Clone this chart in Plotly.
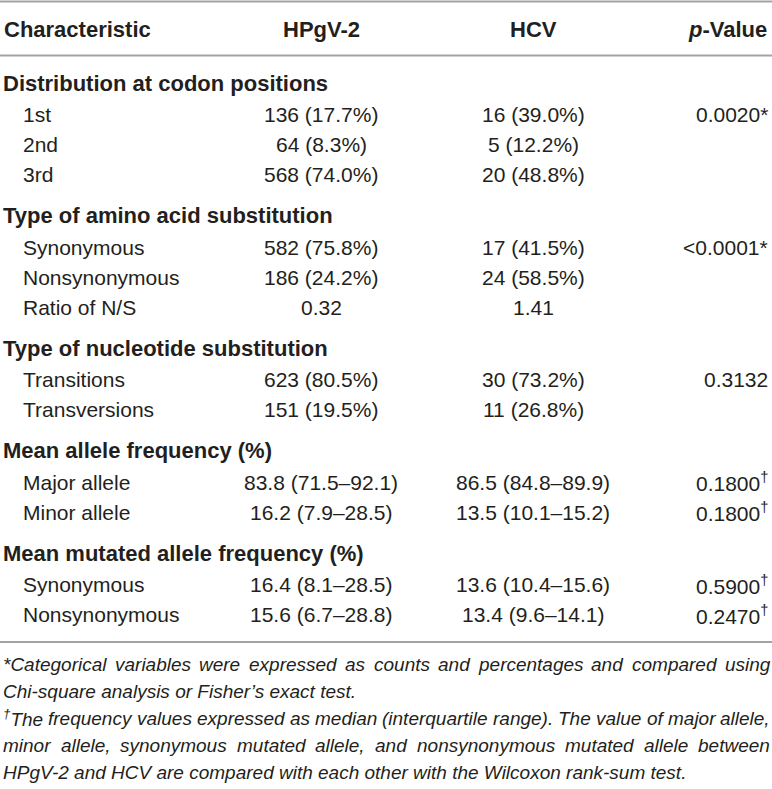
import plotly.graph_objects as go

# table content
col_headers = ["Characteristic", "HPgV-2", "HCV", "<i>p</i>-Value"]

labels = ["Distribution at codon positions", "1st", "2nd", "3rd",
          "Type of amino acid substitution", "Synonymous", "Nonsynonymous", "Ratio of N/S",
          "Type of nucleotide substitution", "Transitions", "Transversions",
          "Mean allele frequency (%)", "Major allele", "Minor allele",
          "Mean mutated allele frequency (%)", "Synonymous", "Nonsynonymous"]
is_section = [True, False, False, False,
              True, False, False, False,
              True, False, False,
              True, False, False,
              True, False, False]
hpgv2 = ["", "136 (17.7%)", "64 (8.3%)", "568 (74.0%)",
         "", "582 (75.8%)", "186 (24.2%)", "0.32",
         "", "623 (80.5%)", "151 (19.5%)",
         "", "83.8 (71.5–92.1)", "16.2 (7.9–28.5)",
         "", "16.4 (8.1–28.5)", "15.6 (6.7–28.8)"]
hcv = ["", "16 (39.0%)", "5 (12.2%)", "20 (48.8%)",
       "", "17 (41.5%)", "24 (58.5%)", "1.41",
       "", "30 (73.2%)", "11 (26.8%)",
       "", "86.5 (84.8–89.9)", "13.5 (10.1–15.2)",
       "", "13.6 (10.4–15.6)", "13.4 (9.6–14.1)"]
p_values = ["", "0.0020*", "", "",
            "", "<0.0001*", "", "",
            "", "0.3132", "",
            "", "0.1800†", "0.1800†",
            "", "0.5900†", "0.2470†"]

footnotes = ["*Categorical variables were expressed as counts and percentages and compared using",
             "Chi-square analysis or Fisher’s exact test.",
             "†The frequency values expressed as median (interquartile range). The value of major allele,",
             "minor allele, synonymous mutated allele, and nonsynonymous mutated allele between",
             "HPgV-2 and HCV are compared with each other with the Wilcoxon rank-sum test."]
justified = [True, False, True, True, False]

W, H = 772, 789
TXT = "#231f20"
RULE = "#a3a3a3"
FONT = "Liberation Sans"

# Arial / Liberation Sans advance widths (1/1000 em)
AW = {" ": 278, ",": 278, ".": 278, "-": 333, "(": 333, ")": 333, "*": 389,
      "’": 222, "'": 191, "†": 556, "%": 889}
for c in "0123456789": AW[c] = 556
AW.update(dict(zip("ABCDEFGHIJKLMNOPQRSTUVWXYZ",
                   [667, 667, 722, 722, 667, 611, 778, 722, 278, 500, 667, 556, 833,
                    722, 778, 667, 778, 722, 667, 611, 722, 667, 944, 667, 667, 611])))
AW.update(dict(zip("abcdefghijklmnopqrstuvwxyz",
                   [556, 556, 500, 556, 556, 278, 556, 556, 222, 222, 500, 222, 833,
                    556, 556, 556, 556, 333, 500, 278, 556, 500, 722, 500, 500, 500])))


def text_width(s, size):
    w = 0
    for c in s:
        k = AW.get(c, 556)
        if c == "†":
            k *= 0.7
        w += k
    return w * size / 1000.0


def fmt(s):
    return s.replace("<", "&lt;").replace("†", "<sup>†</sup>")


fig = go.Figure()
fig.add_trace(go.Scatter(x=[0, W], y=[0, H], mode="markers",
                         marker=dict(opacity=0), hoverinfo="skip", showlegend=False))

ann = []


def cell(x, y, text, anchor, size, bold=False, italic=False):
    t = fmt(text)
    if italic:
        t = "<i>" + t + "</i>"
    if bold:
        t = "<b>" + t + "</b>"
    ann.append(dict(x=x, y=y, xref="x", yref="y", text=t, showarrow=False,
                    xanchor=anchor, yanchor="middle", borderpad=0, borderwidth=0,
                    font=dict(family=FONT, size=size, color=TXT)))


BODY = 21
BOLD = 22
X0, X0_ITEM, X1, X2, X3 = 3, 23, 321, 533, 768

# header row
head_y = 29
ann.append(dict(x=X0, y=head_y, xref="x", yref="y", text="<b>" + col_headers[0] + "</b>",
                showarrow=False, xanchor="left", borderpad=0,
                font=dict(family=FONT, size=BOLD, color=TXT)))
for x, t in zip([X1, X2], col_headers[1:3]):
    ann.append(dict(x=x, y=head_y, xref="x", yref="y", text="<b>" + t + "</b>",
                    showarrow=False, xanchor="center", borderpad=0,
                    font=dict(family=FONT, size=BOLD, color=TXT)))
ann.append(dict(x=X3, y=head_y, xref="x", yref="y", text="<b>" + col_headers[3] + "</b>",
                showarrow=False, xanchor="right", borderpad=0,
                font=dict(family=FONT, size=BOLD, color=TXT)))

# body rows
y = 83
prev = None
for i, lab in enumerate(labels):
    if prev is not None:
        if is_section[i]:
            y += 41
        elif is_section[prev]:
            y += 31.5
        else:
            y += 30
    prev = i
    if is_section[i]:
        cell(X0, y, lab, "left", BOLD, bold=True)
        continue
    cell(X0_ITEM, y, lab, "left", BODY)
    cell(X1, y, hpgv2[i], "center", BODY)
    cell(X2, y, hcv[i], "center", BODY)
    if p_values[i]:
        cell(X3, y, p_values[i], "right", BODY)

# footnotes (justified lines are laid out word by word)
FN = 19
fy = 664
left, right = 3, 770
for line, just in zip(footnotes, justified):
    if not just:
        cell(left, fy, line, "left", FN, italic=True)
    else:
        words = line.split(" ")
        widths = [text_width(w, FN) for w in words]
        gap = (right - left - sum(widths)) / (len(words) - 1)
        x = left
        for w, ww in zip(words, widths):
            cell(x, fy, w, "left", FN, italic=True)
            x += ww + gap
    fy += 27

# horizontal rules
shapes = []
for ry in [1.5, 55.5, 642]:
    shapes.append(dict(type="line", xref="paper", yref="y", x0=0, x1=1, y0=ry, y1=ry,
                       line=dict(color=RULE, width=2)))

fig.update_layout(
    width=W, height=H,
    margin=dict(l=0, r=0, t=0, b=0),
    paper_bgcolor="white", plot_bgcolor="white",
    xaxis=dict(range=[0, W], visible=False, fixedrange=True),
    yaxis=dict(range=[H, 0], visible=False, fixedrange=True),
    annotations=ann, shapes=shapes, showlegend=False,
)

# page has a default body margin; drop it so the figure fills the window
fig.write_html("out.html", config={"displayModeBar": False},
               post_script="document.body.style.margin='0';document.body.style.overflow='hidden';")
